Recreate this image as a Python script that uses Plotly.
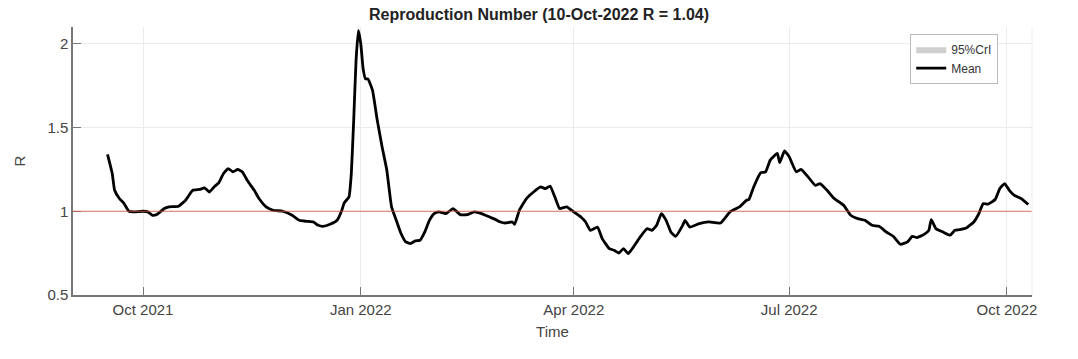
import plotly.graph_objects as go

dates = [
    "2021-09-16", "2021-09-18", "2021-09-19", "2021-09-21", "2021-09-23", "2021-09-25", "2021-09-27",
    "2021-10-01", "2021-10-03", "2021-10-05", "2021-10-07", "2021-10-10", "2021-10-12", "2021-10-16",
    "2021-10-19", "2021-10-22", "2021-10-25", "2021-10-27", "2021-10-29", "2021-10-31", "2021-11-02",
    "2021-11-04", "2021-11-06", "2021-11-08", "2021-11-10", "2021-11-12", "2021-11-14", "2021-11-17",
    "2021-11-19", "2021-11-22", "2021-11-25", "2021-11-29", "2021-12-03", "2021-12-06", "2021-12-09",
    "2021-12-12", "2021-12-14", "2021-12-16", "2021-12-19", "2021-12-22", "2021-12-24", "2021-12-25",
    "2021-12-27", "2021-12-28", "2021-12-29", "2021-12-30", "2021-12-31", "2022-01-01", "2022-01-02",
    "2022-01-03", "2022-01-04", "2022-01-05", "2022-01-06", "2022-01-08", "2022-01-10", "2022-01-12",
    "2022-01-14", "2022-01-16", "2022-01-18", "2022-01-20", "2022-01-22", "2022-01-24", "2022-01-26",
    "2022-01-28", "2022-01-30", "2022-02-01", "2022-02-03", "2022-02-06", "2022-02-09", "2022-02-12",
    "2022-02-15", "2022-02-18", "2022-02-21", "2022-02-25", "2022-02-27", "2022-03-01", "2022-03-03",
    "2022-03-06", "2022-03-07", "2022-03-09", "2022-03-12", "2022-03-15", "2022-03-18", "2022-03-20",
    "2022-03-22", "2022-03-24", "2022-03-26", "2022-03-29", "2022-04-01", "2022-04-04", "2022-04-06",
    "2022-04-08", "2022-04-11", "2022-04-13", "2022-04-16", "2022-04-18", "2022-04-20", "2022-04-22",
    "2022-04-24", "2022-04-26", "2022-04-29", "2022-05-02", "2022-05-04", "2022-05-06", "2022-05-08",
    "2022-05-10", "2022-05-12", "2022-05-14", "2022-05-17", "2022-05-18", "2022-05-20", "2022-05-24",
    "2022-05-28", "2022-06-02", "2022-06-06", "2022-06-10", "2022-06-13", "2022-06-14", "2022-06-16",
    "2022-06-19", "2022-06-21", "2022-06-23", "2022-06-26", "2022-06-27", "2022-06-29", "2022-07-01",
    "2022-07-04", "2022-07-06", "2022-07-09", "2022-07-12", "2022-07-14", "2022-07-17", "2022-07-20",
    "2022-07-24", "2022-07-27", "2022-07-30", "2022-08-02", "2022-08-05", "2022-08-08", "2022-08-11",
    "2022-08-14", "2022-08-17", "2022-08-20", "2022-08-22", "2022-08-24", "2022-08-27", "2022-08-29",
    "2022-08-30", "2022-09-01", "2022-09-04", "2022-09-07", "2022-09-09", "2022-09-11", "2022-09-14",
    "2022-09-17", "2022-09-19", "2022-09-21", "2022-09-23", "2022-09-26", "2022-09-28", "2022-09-30",
    "2022-10-02", "2022-10-04", "2022-10-07", "2022-10-10",
]

r_mean = [
    1.34, 1.225, 1.125, 1.076, 1.046, 1.0, 0.996,
    1.0, 0.996, 0.976, 0.982, 1.016, 1.026, 1.03,
    1.066, 1.125, 1.13, 1.14, 1.115, 1.145, 1.17,
    1.225, 1.255, 1.235, 1.25, 1.235, 1.185, 1.125,
    1.076, 1.026, 1.006, 1.0, 0.976, 0.946, 0.94,
    0.936, 0.916, 0.91, 0.922, 0.946, 1.006, 1.05,
    1.085, 1.225, 1.54, 1.9, 2.08, 2.0, 1.85,
    1.79, 1.79, 1.76, 1.72, 1.54, 1.385, 1.245,
    1.026, 0.946, 0.867, 0.817, 0.807, 0.823, 0.827,
    0.876, 0.946, 0.986, 0.996, 0.986, 1.016, 0.98,
    0.98, 0.996, 0.986, 0.962, 0.95, 0.936, 0.93,
    0.936, 0.922, 1.006, 1.076, 1.115, 1.145, 1.135,
    1.15, 1.085, 1.016, 1.026, 0.996, 0.966, 0.936,
    0.886, 0.906, 0.837, 0.777, 0.767, 0.75, 0.777,
    0.747, 0.783, 0.846, 0.896, 0.886, 0.916, 0.986,
    0.946, 0.876, 0.85, 0.916, 0.946, 0.906, 0.926,
    0.936, 0.93, 0.996, 1.026, 1.066, 1.07, 1.145,
    1.23, 1.235, 1.305, 1.345, 1.29, 1.36, 1.325,
    1.235, 1.25, 1.205, 1.155, 1.165, 1.125, 1.076,
    1.036, 0.976, 0.956, 0.946, 0.916, 0.91, 0.876,
    0.85, 0.803, 0.817, 0.85, 0.843, 0.862, 0.886,
    0.95, 0.896, 0.876, 0.857, 0.886, 0.89, 0.902,
    0.936, 0.982, 1.046, 1.042, 1.07, 1.136, 1.165,
    1.125, 1.096, 1.076, 1.04,
]

tick_dates = ["2021-10-01", "2022-01-01", "2022-04-01", "2022-07-01", "2022-10-01"]
tick_labels = ["Oct 2021", "Jan 2022", "Apr 2022", "Jul 2022", "Oct 2022"]
y_ticks = [0.5, 1, 1.5, 2]
y_labels = ["0.5", "1", "1.5", "2"]
threshold = 1.0
title_text = "Reproduction Number (10-Oct-2022 R = 1.04)"

FONT = "Liberation Sans, Arial, sans-serif"

fig = go.Figure()

fig.add_trace(go.Scatter(
    x=[None], y=[None], mode="lines", fill="toself",
    fillcolor="#cfcfcf", line=dict(width=0, color="#cfcfcf"),
    name="95%CrI", showlegend=True,
))

fig.add_trace(go.Scatter(
    x=dates, y=r_mean, mode="lines",
    line=dict(color="black", width=2.8, shape="spline", smoothing=0.4),
    name="Mean",
))

fig.add_hline(y=threshold, line=dict(color="rgba(215,85,60,0.8)", width=1), layer="above")

fig.update_layout(
    width=1078, height=359,
    margin=dict(l=73, r=46, t=27, b=64),
    paper_bgcolor="white", plot_bgcolor="white",
    font=dict(family=FONT, size=15, color="#444444"),
    title=dict(text="<b>" + title_text + "</b>", x=0.5, xanchor="center",
               y=1 - 14 / 359, yanchor="middle",
               font=dict(family=FONT, size=16, color="#222222")),
    showlegend=True,
    legend=dict(x=0.873, y=0.975, xanchor="left", yanchor="top",
                bgcolor="white", bordercolor="#bbbbbb", borderwidth=1,
                font=dict(family=FONT, size=12, color="#333333"),
                tracegroupgap=0, itemwidth=30),
)

fig.update_xaxes(
    type="date",
    range=["2021-09-01 10:00", "2022-10-11 14:00"],
    tickvals=tick_dates, ticktext=tick_labels,
    showgrid=True, gridcolor="#ebebeb", gridwidth=1,
    showline=True, linecolor="#777777", linewidth=1.5,
    ticks="inside", ticklen=8, tickcolor="#777777",
    title=dict(text="Time", standoff=10, font=dict(size=15, color="#444444")),
    zeroline=False,
)

fig.update_yaxes(
    range=[0.5, 2.1],
    tickvals=y_ticks, ticktext=y_labels,
    showgrid=True, gridcolor="#ebebeb", gridwidth=1,
    showline=True, linecolor="#777777", linewidth=1.5,
    ticks="inside", ticklen=8, tickcolor="#777777",
    title=dict(text="R", standoff=18, font=dict(size=15, color="#444444")),
    zeroline=False,
)

fig.add_shape(type="line", xref="paper", yref="paper", x0=1, x1=1, y0=0, y1=1,
              line=dict(color="#eeeeee", width=1))

fig.write_html("out.html")
